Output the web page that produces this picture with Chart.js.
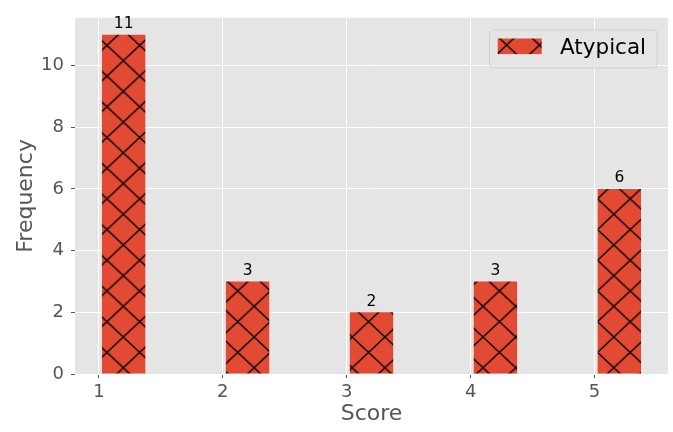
<!DOCTYPE html>
<html>
<head>
<meta charset="utf-8">
<script src="https://cdn.jsdelivr.net/npm/chart.js@4.4.1/dist/chart.umd.min.js"></script>
<style>
  html, body { margin: 0; padding: 0; background: #ffffff; }
  #wrap { width: 673px; height: 432px; }
</style>
</head>
<body>
<div id="wrap"><canvas id="c" width="673" height="432"></canvas></div>
<script>
// ---- data ----
const scores = [1, 2, 3, 4, 5];
const frequencies = [11, 3, 2, 3, 6];
const xTickValues = [1, 2, 3, 4, 5];
const yTickValues = [0, 2, 4, 6, 8, 10];
const seriesLabel = 'Atypical';
const xTitle = 'Score';
const yTitle = 'Frequency';

// ---- style ----
const BAR_SHIFT = 0.2;       // bar centre relative to score (bars start just right of tick)
const FONT = "'DejaVu Sans', sans-serif";
const BAR_RED = '#E24A33';

const canvas = document.getElementById('c');
const ctx = canvas.getContext('2d');

function makeHatch(ox, oy) {
  const w = 33, h = 31;
  const c = document.createElement('canvas');
  c.width = w; c.height = h;
  const g = c.getContext('2d');
  g.fillStyle = BAR_RED;
  g.fillRect(0, 0, w, h);
  g.strokeStyle = '#000000';
  g.lineWidth = 1.3;
  g.beginPath();
  for (const dx of [-w, 0, w]) {
    for (const dy of [-h, 0, h]) {
      g.moveTo(dx, dy); g.lineTo(dx + w, dy + h);
      g.moveTo(dx + w, dy); g.lineTo(dx, dy + h);
    }
  }
  g.stroke();
  const p = ctx.createPattern(c, 'repeat');
  p.setTransform(new DOMMatrix().translate(ox, oy).scale(32.7 / w, 30.7 / h));
  return p;
}
const barHatch = makeHatch(25.2, 30.0);
const legendHatch = makeHatch(16.2, 14.3);

const bgPlugin = {
  id: 'bg',
  beforeDraw(chart) {
    const a = chart.chartArea, g = chart.ctx;
    g.save();
    g.fillStyle = '#E5E5E5';
    g.fillRect(a.left, a.top, a.right - a.left, a.bottom - a.top);
    g.restore();
  }
};

const labelPlugin = {
  id: 'barLabels',
  afterDatasetsDraw(chart) {
    const g = chart.ctx;
    const meta = chart.getDatasetMeta(0);
    g.save();
    g.font = '15.5px ' + FONT;
    g.fillStyle = '#000000';
    g.textAlign = 'center';
    g.textBaseline = 'alphabetic';
    meta.data.forEach((bar, i) => {
      g.fillText(String(frequencies[i]), bar.x, bar.y - 6.5);
    });
    g.restore();
  }
};

const legendPlugin = {
  id: 'customLegend',
  afterDraw(chart) {
    const a = chart.chartArea, g = chart.ctx;
    const right = a.right - 11.3, top = a.top + 11.7;
    const w = 167.7, h = 38;
    const left = right - w;
    g.save();
    g.beginPath();
    g.roundRect(left + 0.5, top + 0.5, w, h, 4);
    g.fillStyle = 'rgba(229,229,229,0.8)';
    g.fill();
    g.strokeStyle = 'rgba(204,204,204,0.8)';
    g.lineWidth = 1;
    g.stroke();
    g.fillStyle = legendHatch;
    g.fillRect(left + 8.7, top + 9, 44, 15.6);
    g.font = '21.5px ' + FONT;
    g.fillStyle = '#000000';
    g.textAlign = 'left';
    g.textBaseline = 'alphabetic';
    g.fillText(seriesLabel, left + 71, top + 24.6);
    g.restore();
  }
};

new Chart(canvas, {
  type: 'bar',
  data: {
    datasets: [{
      label: seriesLabel,
      data: scores.map((s, i) => ({ x: s + BAR_SHIFT, y: frequencies[i] })),
      backgroundColor: barHatch,
      borderWidth: 0,
      categoryPercentage: 1.0,
      barPercentage: 0.35
    }]
  },
  options: {
    responsive: false,
    animation: false,
    devicePixelRatio: 1,
    layout: { padding: { left: 0, right: 5, top: 17, bottom: 0 } },
    plugins: {
      legend: { display: false },
      tooltip: { enabled: false }
    },
    scales: {
      x: {
        type: 'linear',
        offset: false,
        min: 0.8075,
        max: 5.5925,
        afterBuildTicks(scale) { scale.ticks = xTickValues.map(v => ({ value: v })); },
        afterFit(scale) { scale.height = 58; },
        grid: { offset: false, color: '#FFFFFF', lineWidth: 1, tickColor: '#555555', tickLength: 4, drawTicks: true },
        border: { display: false },
        ticks: {
          color: '#555555',
          font: { family: FONT, size: 18 },
          padding: 4,
          maxRotation: 0,
          callback: v => String(v)
        },
        title: {
          display: true,
          text: xTitle,
          color: '#555555',
          font: { family: FONT, size: 22 },
          padding: { top: 0, bottom: 5 }
        }
      },
      y: {
        type: 'linear',
        min: 0,
        max: 11.55,
        afterBuildTicks(scale) { scale.ticks = yTickValues.map(v => ({ value: v })); },
        afterFit(scale) { scale.width = 75; },
        grid: { color: '#FFFFFF', lineWidth: 1, tickColor: '#555555', tickLength: 4, drawTicks: true },
        border: { display: false },
        ticks: {
          color: '#555555',
          font: { family: FONT, size: 18 },
          padding: 7,
          callback: v => String(v)
        },
        title: {
          display: true,
          text: yTitle,
          color: '#555555',
          font: { family: FONT, size: 22 },
          padding: { top: 13, bottom: 0 }
        }
      }
    }
  },
  plugins: [bgPlugin, labelPlugin, legendPlugin]
});
</script>
</body>
</html>
